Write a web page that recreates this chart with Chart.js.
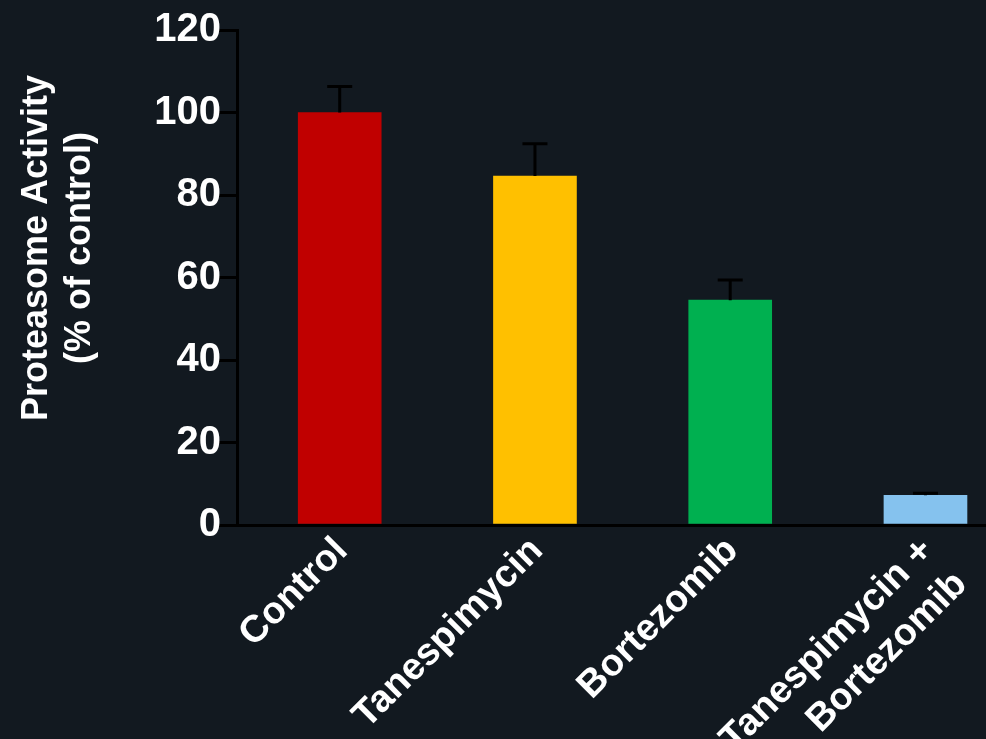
<!DOCTYPE html>
<html lang="en">
<head>
    <meta charset="UTF-8">
    <title>Proteasome Activity</title>
    <script src="https://cdn.jsdelivr.net/npm/chart.js"></script>
    <style>
        html, body { margin: 0; padding: 0; background: #121920; }
        #wrap { width: 986px; height: 739px; position: relative; }
    </style>
</head>
<body>
    <div id="wrap"><canvas id="proteasomeChart"></canvas></div>

    <script>
        // chart data
        const categories = ['Control', 'Tanespimycin', 'Bortezomib', ['Tanespimycin +', 'Bortezomib']];
        const activity = [100, 84.6, 54.5, 7.2];
        const errors = [6.3, 7.8, 4.9, 0.5];
        const barColors = ['#c00000', '#ffc000', '#00b050', '#85c2ee'];
        const yTicks = [0, 20, 40, 60, 80, 100, 120];
        const yTitle = ['Proteasome Activity', '(% of control)'];

        // bars sit on a linear x scale so the spacing can match the original
        const points = activity.map((v, i) => ({ x: i, y: v }));

        // upper error bars (black whisker + cap)
        const errorBars = {
            id: 'errorBars',
            afterDatasetsDraw(chart) {
                const ctx = chart.ctx;
                const xs = chart.scales.x, ys = chart.scales.y;
                ctx.save();
                ctx.strokeStyle = '#000';
                ctx.lineWidth = 3;
                activity.forEach((v, i) => {
                    const px = xs.getPixelForValue(i);
                    const top = ys.getPixelForValue(v + errors[i]);
                    const base = ys.getPixelForValue(v);
                    ctx.beginPath();
                    ctx.moveTo(px, base);
                    ctx.lineTo(px, top);
                    ctx.moveTo(px - 12.5, top);
                    ctx.lineTo(px + 12.5, top);
                    ctx.stroke();
                });
                ctx.restore();
            }
        };

        // y axis title, placed like the original (above the axis middle)
        const axisTitle = {
            id: 'axisTitle',
            afterDraw(chart) {
                const ctx = chart.ctx;
                ctx.save();
                ctx.translate(58, 248);
                ctx.rotate(-Math.PI / 2);
                ctx.font = 'bold 36px "Liberation Sans", Arial, sans-serif';
                ctx.fillStyle = '#ffffff';
                ctx.textAlign = 'center';
                ctx.textBaseline = 'middle';
                ctx.fillText(yTitle[0], 0, -21);
                ctx.fillText(yTitle[1], 0, 22);
                ctx.restore();
            }
        };

        const ctx = document.getElementById('proteasomeChart').getContext('2d');
        const proteasomeChart = new Chart(ctx, {
            type: 'bar',
            data: {
                datasets: [{
                    data: points,
                    backgroundColor: barColors,
                    borderWidth: 0,
                    barThickness: 83
                }]
            },
            options: {
                responsive: true,
                maintainAspectRatio: false,
                animation: false,
                layout: { padding: { top: 30, left: 0, right: 0, bottom: 0 } },
                plugins: {
                    legend: { display: false },
                    tooltip: { enabled: false }
                },
                scales: {
                    x: {
                        type: 'linear',
                        offset: false,
                        min: -0.526,
                        max: 3.31,
                        grid: { display: true, offset: false, drawOnChartArea: false, drawTicks: false },
                        border: { display: true, color: '#000', width: 3 },
                        afterFit(scale) {
                            scale.height = 214;
                            scale.paddingLeft = 0;
                            scale.paddingRight = 0;
                        },
                        afterBuildTicks(scale) {
                            scale.ticks = categories.map((c, i) => ({ value: i }));
                        },
                        ticks: {
                            color: '#ffffff',
                            font: { family: '"Liberation Sans", Arial, sans-serif', size: 38, weight: 'bold', lineHeight: 1.25 },
                            minRotation: 45,
                            maxRotation: 45,
                            labelOffset: 2,
                            padding: 3,
                            callback: (v) => categories[v]
                        }
                    },
                    y: {
                        min: 0,
                        max: 120,
                        afterFit(scale) { scale.width = 237; },
                        afterBuildTicks(scale) {
                            scale.ticks = yTicks.map(v => ({ value: v }));
                        },
                        grid: { drawOnChartArea: false, color: '#000', lineWidth: 3, tickLength: 19 },
                        border: { display: true, color: '#000', width: 3 },
                        ticks: {
                            color: '#ffffff',
                            font: { family: '"Liberation Sans", Arial, sans-serif', size: 40, weight: 'bold' },
                            padding: -3
                        }
                    }
                }
            },
            plugins: [errorBars, axisTitle]
        });
    </script>
</body>
</html>
